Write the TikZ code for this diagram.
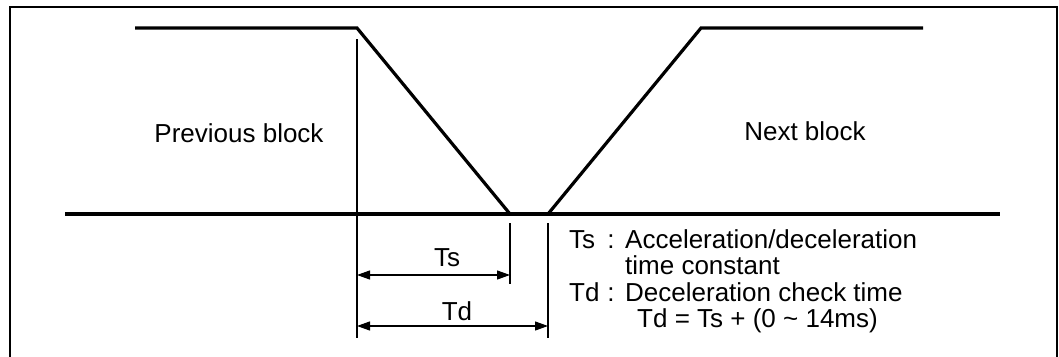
\documentclass[tikz,border=0pt]{standalone}
\usepackage{fontspec}
\setmainfont{Liberation Sans}
\usetikzlibrary{arrows.meta,positioning}
\tikzset{>={Triangle[length=13pt,width=9pt]}}
\tikzset{font=\fontsize{26}{27}\selectfont}
\tikzset{signal/.style={line width=3.2pt, line join=miter},
  axisline/.style={line width=4pt},
  markline/.style={line width=1.2pt},
  dimline/.style={<->, line width=1.2pt},
  legend/.style={anchor=base west, inner sep=0pt}}

\begin{document}
\begin{tikzpicture}[x=1pt,y=-1pt]
  \useasboundingbox (0,0) rectangle (1059,356);
  % outer frame, open at the bottom
  \draw[line width=2pt] (10,370) -- (10,7) -- (1057,7) -- (1057,370);
  % speed profile
  \coordinate (topL) at (135,28);
  \coordinate (cornerL) at (357,28);
  \coordinate (footL) at (510,214);
  \coordinate (footR) at (548,214);
  \coordinate (cornerR) at (701,28);
  \coordinate (topR) at (923,28);
  \coordinate (axisL) at (65,214);
  \coordinate (axisR) at (1000,214);
  \draw[signal] (topL) -- (cornerL) -- (footL);
  \draw[signal] (footR) -- (cornerR) -- (topR);
  \draw[axisline] (axisL) -- (axisR);
  % time markers
  \coordinate (startTop) at (357,39);
  \coordinate (startBot) at (357,338);
  \coordinate (tsTop) at (510,223);
  \coordinate (tsBot) at (510,284);
  \coordinate (tdTop) at (548,223);
  \coordinate (tdBot) at (548,338);
  \draw[markline] (startTop) -- (startBot);
  \draw[markline] (tsTop) -- (tsBot);
  \draw[markline] (tdTop) -- (tdBot);
  \coordinate (tsFrom) at (357,275);
  \coordinate (tsTo) at (510,275);
  \coordinate (tdFrom) at (357,326);
  \coordinate (tdTo) at (548,326);
  \draw[dimline] (tsFrom) -- (tsTo);
  \draw[dimline] (tdFrom) -- (tdTo);
  \node[anchor=base] (tsLabel) at (447,266) {Ts};
  \node[anchor=base] (tdLabel) at (457,320) {Td};
  % block names
  \node[anchor=base] (prevBlock) at (239,142) {Previous block};
  \node[anchor=base] (nextBlock) at (805,140) {Next block};
  % legend
  \node[legend] (tsName) at (569,248) {Ts};
  \node[anchor=base, inner sep=0pt] (tsColon) at (611,248) {:};
  \node[legend] (tsText) at (625,248) {Acceleration/deceleration};
  \node[legend] (tsText2) at (625,274) {time constant};
  \node[legend] (tdName) at (569,301) {Td};
  \node[anchor=base, inner sep=0pt] (tdColon) at (611,301) {:};
  \node[legend] (tdText) at (625,301) {Deceleration check time};
  \node[legend] (tdFormula) at (637,327) {Td = Ts + (0 \textasciitilde{} 14ms)};
\end{tikzpicture}
\end{document}
